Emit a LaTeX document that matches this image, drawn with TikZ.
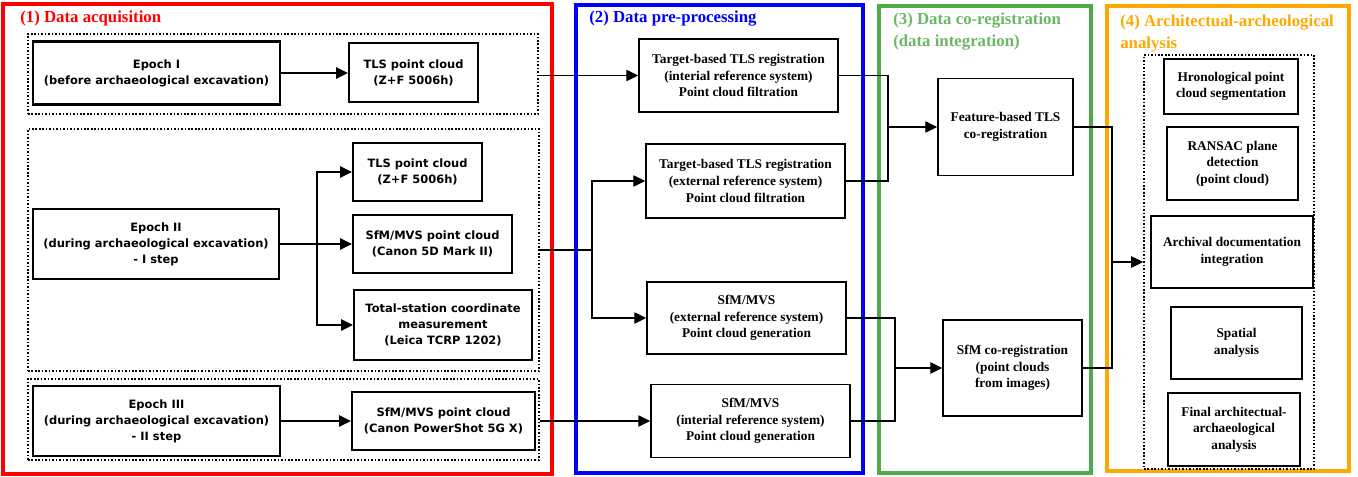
\documentclass[tikz,border=0pt]{standalone}
\usepackage{fontspec}
\setmainfont{Liberation Serif}
\newfontfamily\boxsans{DejaVu Sans}
\usetikzlibrary{arrows.meta}
\definecolor{secRed}{RGB}{255,0,0}
\definecolor{secBlue}{RGB}{0,0,255}
\definecolor{secGreen}{RGB}{80,172,72}
\definecolor{secOrange}{RGB}{255,168,0}

\begin{document}
\begin{tikzpicture}[x=0.75pt, y=-0.75pt,
    sz/.style 2 args={minimum width=#1*0.75pt, minimum height=#2*0.75pt},
    frame/.style={line width=2.5pt},
    title/.style={anchor=west, inner sep=0pt, align=left, font=\fontsize{12.6}{16.5}\selectfont\bfseries},
    grp/.style={draw, line width=1.2pt, dash pattern=on 1.2pt off 1.4pt, inner sep=0pt},
    sbox/.style={draw, line width=1.5pt, inner sep=0pt, align=center, font=\boxsans\fontsize{8.6}{12}\selectfont\bfseries},
    epbox/.style={sbox, line width=2pt},
    tbox/.style={draw, line width=1.1pt, inner sep=0pt, align=center, font=\fontsize{10}{12.5}\selectfont\bfseries},
    link/.style={line width=1pt},
    arr/.style={link, -{Triangle[length=9pt, width=8.5pt]}},
    sarr/.style={line width=1.4pt, -{Triangle[length=9pt, width=8.5pt]}},
  ]
    \useasboundingbox (0,0) rectangle (1358,477);

    \draw[frame, secRed] (3,4) rectangle (552,474);
    \draw[frame, secBlue] (576,5) rectangle (863,473);
    \draw[frame, secGreen] (879,6) rectangle (1091,473);
    \draw[frame, secOrange] (1107,6) rectangle (1349,471);
    \node[title, secRed] (t1) at (20,18) {(1) Data acquisition};
    \node[title, secBlue] (t2) at (589,19) {(2) Data pre-processing};
    \node[title, secGreen!85!white] (t3) at (893,32) {(3) Data co-registration\\(data integration)};
    \node[title, secOrange] (t4) at (1120,33) {(4) Architectual-archeological\\analysis};

    \node[grp, sz={510}{80}] (grp1) at (283,74) {};
    \node[grp, sz={511}{242}] (grp2) at (283.5,250) {};
    \node[grp, sz={511}{81}] (grp3) at (283.5,419.5) {};
    \node[grp, sz={170}{414}] (grp4) at (1229,262) {};

    \node[epbox, sz={247}{63}] (ep1) at (156.5,73) {Epoch I\\(before archaeological excavation)};
    \node[sbox, sz={129}{59}] (tls1) at (413.5,73) {TLS point cloud\\(Z+F 5006h)};
    \node[epbox, sz={246}{70}] (ep2) at (156,244) {Epoch II\\(during archaeological excavation)\\- I step};
    \node[sbox, sz={129}{58}] (tls2) at (417.5,172) {TLS point cloud\\(Z+F 5006h)};
    \node[sbox, sz={159}{58}] (sfm1) at (432.5,244) {SfM/MVS point cloud\\(Canon 5D Mark II)};
    \node[sbox, sz={178}{70}] (ts) at (443,325) {Total-station coordinate\\measurement\\(Leica TCRP 1202)};
    \node[epbox, sz={247}{70}] (ep3) at (156.5,421) {Epoch III\\(during archaeological excavation)\\- II step};
    \node[sbox, sz={183}{58}] (sfm2) at (443.5,421) {SfM/MVS point cloud\\(Canon PowerShot 5G X)};

    \node[tbox, sz={199}{73}] (tgtA) at (738.5,75.5) {Target-based TLS registration\\(interial reference system)\\Point cloud filtration};
    \node[tbox, sz={199}{74}] (tgtB) at (745.5,181) {Target-based TLS registration\\(external reference system)\\Point cloud filtration};
    \node[tbox, sz={199}{72}] (sfmA) at (746.5,318) {SfM/MVS\\(external reference system)\\Point cloud generation};
    \node[tbox, sz={199}{73}] (sfmB) at (750.5,421) {SfM/MVS\\(interial reference system)\\Point cloud generation};

    \node[tbox, sz={135}{97}] (feat) at (1005.5,127) {Feature-based TLS\\co-registration};
    \node[tbox, sz={139}{96}] (sfmco) at (1012.5,368) {SfM co-registration\\(point clouds\\from images)};

    \node[tbox, sz={134}{55}] (hron) at (1231,86.5) {Hronological point\\cloud segmentation};
    \node[tbox, sz={131}{73}] (ransac) at (1232.5,163.5) {RANSAC plane\\detection\\(point cloud)};
    \node[tbox, sz={162}{72}] (arch) at (1232,252) {Archival documentation\\integration};
    \node[tbox, sz={131}{72}] (spat) at (1236.5,343) {Spatial\\analysis};
    \node[tbox, sz={132}{73}] (final) at (1234,429.5) {Final architectual-\\archaeological\\analysis};

    \coordinate (br2) at (317,244);
    \coordinate (br3) at (592,250);
    \coordinate (j1) at (888,127);
    \coordinate (j2) at (895,368);
    \coordinate (j3) at (1112,262);

    \draw[sarr] (ep1) -- (tls1);
    \draw[sarr] (ep2) -- (sfm1);
    \draw[sarr] (br2) |- (tls2);
    \draw[sarr] (br2) |- (ts);
    \draw[sarr] (ep3) -- (sfm2);

    \draw[arr] (grp1.east |- tgtA) -- (tgtA);
    \draw[link] (grp2.east) -- (br3);
    \draw[arr] (br3) |- (tgtB);
    \draw[arr] (br3) |- (sfmA);
    \draw[arr] (grp3.east |- sfmB) -- (sfmB);

    \draw[link] (tgtA) -| (j1) |- (tgtB);
    \draw[arr] (j1) -- (feat);
    \draw[link] (sfmA) -| (j2) |- (sfmB);
    \draw[arr] (j2) -- (sfmco);
    \draw[link] (feat) -| (j3) |- (sfmco);
    \draw[arr] (j3) -- (grp4);
\end{tikzpicture}
\end{document}
